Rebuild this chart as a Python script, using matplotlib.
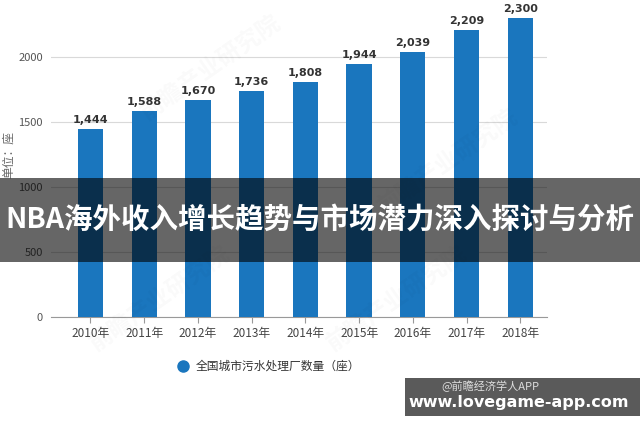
import matplotlib
matplotlib.use('Agg')
import matplotlib.pyplot as plt
from matplotlib.patches import Rectangle

plt.rcParams['font.family'] = ['Noto Sans CJK SC', 'DejaVu Sans']

years = ['2010年', '2011年', '2012年', '2013年', '2014年', '2015年', '2016年', '2017年', '2018年']
plants = [1444, 1588, 1670, 1736, 1808, 1944, 2039, 2209, 2300]
y_ticks = [0, 500, 1000, 1500, 2000]
series_name = '全国城市污水处理厂数量（座）'
banner_title = 'NBA海外收入增长趋势与市场潜力深入探讨与分析'

bar_color = '#1a76be'

fig = plt.figure(figsize=(6.4, 4.26), dpi=100)
ax = fig.add_axes([0.08, 0.256, 0.775, 0.744])

x = range(len(years))
ax.bar(x, plants, width=0.47, color=bar_color, zorder=3)
for i, v in enumerate(plants):
    ax.annotate(f'{v:,}', (i, v), xytext=(0, 3), textcoords='offset points',
                ha='center', va='bottom', fontsize=8, fontweight='bold',
                color='#333333', family='DejaVu Sans', zorder=4)

ax.set_xlim(-0.73, 8.5)
ax.set_ylim(0, 2440)
ax.set_yticks(y_ticks)
ax.set_xticks(list(x))
ax.set_xticklabels(years)
ax.grid(axis='y', color='#d9d9d9', linewidth=0.8, zorder=0)
ax.tick_params(axis='y', length=0, labelsize=8, colors='#555555', pad=6)
ax.tick_params(axis='x', length=4, labelsize=8.5, colors='#444444', width=0.8)
ax.tick_params(axis='x', color='#999999')
for side in ['top', 'right', 'left']:
    ax.spines[side].set_visible(False)
ax.spines['bottom'].set_color('#999999')

fig.text(0.013, 1 - 155 / 426, '单位：座', rotation=90, ha='center', va='center',
         fontsize=8.5, color='#666666')

# faint watermark
for wx, wy in [(0.33, 0.84), (0.70, 0.62), (0.25, 0.30), (0.62, 0.30)]:
    fig.text(wx, wy, '前瞻产业研究院', rotation=35, ha='center', va='center',
             fontsize=17, color='#000000', alpha=0.025, fontweight='bold')

# legend
fig.lines.append(plt.Line2D([0.286], [1 - 366 / 426], marker='o', markersize=8,
                            color=bar_color, transform=fig.transFigure))
fig.text(0.306, 1 - 366 / 426, series_name, ha='left', va='center',
         fontsize=8.5, color='#333333')

# title banner
fig.patches.append(Rectangle((0, 1 - 262 / 426), 1, 84 / 426, transform=fig.transFigure,
                             facecolor='black', alpha=0.6, zorder=5))
fig.text(0.5, 1 - 220 / 426, banner_title, ha='center', va='center',
         fontsize=20.5, fontweight='bold', color='white', zorder=6)

# bottom-right box
fig.patches.append(Rectangle((405 / 640, 1 - 416 / 426), 235 / 640, 38 / 426,
                             transform=fig.transFigure, facecolor='#5a5a5a', zorder=5))
fig.text(490 / 640, 1 - 386 / 426, '@前瞻经济学人APP', ha='center', va='center',
         fontsize=8, color='#dddddd', zorder=6)
fig.text(519 / 640, 1 - 403 / 426, 'www.lovegame-app.com', ha='center', va='center',
         fontsize=11.5, fontweight='bold', color='white', family='DejaVu Sans', zorder=6)

fig.savefig('out.png', dpi=100)
